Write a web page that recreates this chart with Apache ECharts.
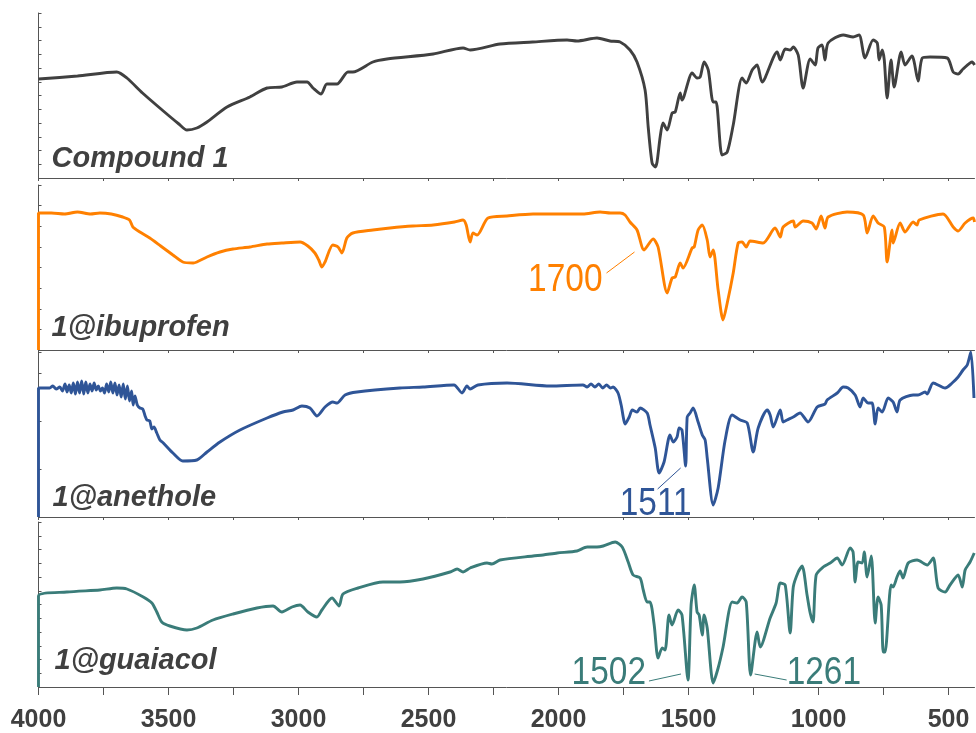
<!DOCTYPE html>
<html>
<head>
<meta charset="utf-8">
<script src="https://cdn.jsdelivr.net/npm/echarts@6/dist/echarts.min.js"></script>
<style>
  html, body { margin: 0; padding: 0; background: #fff; }
  #chart { width: 976px; height: 733px; }
</style>
</head>
<body>
<div id="chart"></div>
<script>
// Wavenumber axis (cm-1), shared by the four stacked FTIR spectra
const wavenumberTicks = [4000, 3750, 3500, 3250, 3000, 2750, 2500, 2250, 2000, 1750, 1500, 1250, 1000, 750, 500];
const wavenumberLabels = [4000, 3500, 3000, 2500, 2000, 1500, 1000, 500];

const sampleNames = ['Compound 1', '1@ibuprofen', '1@anethole', '1@guaiacol'];

// Transmittance (arbitrary units, 0-165 per panel) as [wavenumber, T]
const compound1 = [
  [4000,99],[3850,102],[3699,106],[3660,100],[3600,85],[3520,67],[3460,54],[3429,48],[3391,50],[3352,56],
  [3275,71],[3187,81],[3121,90],[3064,91],[3006,96],[2967,96],[2944,90],[2913,84],[2891,94],[2852,94],
  [2810,106],[2791,106],[2714,116],[2660,119],[2482,124],[2367,130],[2340,128],[2225,134],[2100,136],[1967,138],
  [1929,137],[1852,140],[1802,137],[1763,136],[1725,128],[1698,116],[1667,88],[1655,51],[1640,15],[1628,11],
  [1621,16],[1609,41],[1598,55],[1582,48],[1563,65],[1551,66],[1532,85],[1525,78],[1486,105],[1467,100],
  [1455,101],[1440,116],[1424,108],[1405,76],[1394,76],[1371,23],[1351,26],[1328,53],[1294,100],[1278,95],
  [1255,108],[1236,113],[1217,96],[1159,126],[1147,118],[1128,129],[1109,128],[1097,131],[1078,123],[1059,90],
  [1032,119],[1013,113],[1002,130],[986,133],[975,118],[963,135],[905,143],[867,141],[844,143],[821,120],
  [790,138],[774,135],[767,118],[755,128],[747,118],[736,80],[721,118],[709,91],[682,126],[667,113],
  [640,122],[632,116],[617,97],[601,120],[571,121],[505,120],[482,106],[463,104],[444,109],[409,116],[400,113]
];

const ibuprofen = [
  [4000,0],[4000,137],[3950,137],[3900,136],[3850,138],[3800,136],[3764,137],[3720,136],[3676,133],[3650,130],
  [3637,123],[3610,118],[3572,112],[3530,104],[3483,95],[3445,88],[3405,87],[3391,88],[3352,93],[3302,98],
  [3252,101],[3187,103],[3121,106],[3064,107],[2994,108],[2964,104],[2937,97],[2922,90],[2910,83],[2898,88],
  [2868,105],[2848,103],[2833,97],[2814,112],[2791,117],[2714,120],[2648,122],[2560,124],[2482,125],[2400,128],
  [2367,130],[2355,125],[2340,108],[2329,117],[2313,115],[2271,132],[2198,134],[2098,136],[2000,136],[1906,136],
  [1840,138],[1800,137],[1763,137],[1744,135],[1725,128],[1698,120],[1671,100],[1636,111],[1617,103],[1582,57],
  [1563,72],[1551,73],[1532,87],[1521,82],[1486,102],[1478,103],[1463,120],[1447,125],[1428,110],[1417,93],
  [1405,100],[1386,60],[1367,30],[1351,47],[1328,77],[1309,107],[1294,108],[1278,103],[1263,109],[1213,107],
  [1167,122],[1147,113],[1136,123],[1097,129],[1090,123],[1059,129],[1025,127],[1009,121],[990,134],[975,122],
  [963,133],[890,138],[828,135],[813,117],[790,134],[771,127],[747,123],[736,88],[717,120],[713,107],
  [686,127],[667,118],[636,128],[621,125],[613,130],[521,136],[482,123],[463,119],[436,127],[405,132],[400,128]
];

const anethole = [
  [4000,0],[4000,129],[3957,129],[3945,131],[3932,128],[3918,130],[3908,126],[3898,133],[3890,125],[3882,132],
  [3874,124],[3866,134],[3858,123],[3850,135],[3842,124],[3834,136],[3826,123],[3818,135],[3810,124],[3802,133],
  [3794,126],[3786,134],[3778,127],[3770,131],[3762,126],[3754,129],[3746,124],[3738,133],[3730,125],[3722,135],
  [3714,124],[3706,134],[3698,122],[3690,132],[3682,120],[3674,133],[3666,118],[3658,131],[3650,116],[3642,126],
  [3636,112],[3629,121],[3620,112],[3610,109],[3599,108],[3590,101],[3583,97],[3572,96],[3564,88],[3556,90],
  [3545,84],[3533,77],[3520,74],[3483,64],[3445,56],[3391,57],[3352,65],[3302,75],[3225,87],[3121,99],
  [3060,105],[3021,107],[2987,111],[2956,109],[2929,101],[2898,110],[2868,115],[2852,114],[2821,122],[2775,125],
  [2610,129],[2521,130],[2402,132],[2371,124],[2352,131],[2340,128],[2310,132],[2198,134],[2032,131],[1906,132],
  [1890,130],[1875,133],[1860,130],[1845,133],[1830,129],[1815,132],[1800,129],[1790,130],[1771,124],[1759,112],
  [1743,93],[1728,100],[1716,107],[1698,105],[1686,109],[1659,104],[1648,92],[1628,69],[1613,44],[1594,55],
  [1571,82],[1559,75],[1544,80],[1536,89],[1525,87],[1511,51],[1505,100],[1494,104],[1482,109],[1463,95],
  [1447,82],[1436,77],[1428,59],[1405,12],[1386,29],[1359,77],[1332,102],[1301,97],[1274,94],[1251,65],
  [1232,89],[1197,107],[1186,102],[1174,90],[1147,107],[1136,95],[1121,97],[1097,100],[1071,104],[1040,95],
  [1005,110],[975,113],[967,117],[928,124],[905,130],[886,129],[859,122],[840,110],[828,119],[809,114],
  [794,114],[782,93],[771,109],[755,105],[732,119],[713,115],[698,105],[686,117],[636,122],[617,122],
  [590,125],[582,123],[559,134],[513,129],[486,134],[463,140],[444,147],[428,152],[414,165],[402,119]
];

const guaiacol = [
  [4000,0],[4000,91],[3891,95],[3764,97],[3699,99],[3660,98],[3597,90],[3564,84],[3545,75],[3526,65],
  [3495,61],[3429,57],[3391,59],[3329,67],[3252,73],[3160,79],[3098,81],[3064,75],[3025,80],[2994,82],
  [2964,75],[2929,70],[2910,77],[2871,89],[2844,81],[2829,93],[2771,99],[2675,105],[2610,105],[2521,108],
  [2417,115],[2390,118],[2367,115],[2340,119],[2275,124],[2256,123],[2225,127],[2098,131],[2059,132],[2005,134],
  [1929,136],[1890,140],[1852,140],[1828,141],[1782,145],[1755,140],[1732,125],[1713,112],[1686,109],[1674,97],
  [1659,85],[1648,85],[1632,62],[1617,29],[1601,39],[1590,37],[1575,72],[1563,62],[1540,77],[1525,72],
  [1502,7],[1490,82],[1478,102],[1467,75],[1459,72],[1447,52],[1440,72],[1428,59],[1405,4],[1386,19],
  [1367,40],[1332,85],[1313,84],[1294,90],[1278,85],[1261,12],[1236,55],[1224,40],[1186,69],[1163,84],
  [1147,104],[1128,102],[1109,54],[1097,100],[1078,115],[1063,121],[1044,92],[1032,74],[1021,65],[1009,112],
  [982,120],[955,124],[928,129],[909,122],[878,139],[867,135],[859,105],[848,125],[832,124],[824,135],
  [813,110],[797,131],[782,64],[771,90],[759,82],[751,35],[744,35],[721,102],[713,100],[698,110],
  [686,116],[675,109],[655,124],[621,127],[582,122],[559,129],[540,99],[513,95],[494,102],[463,112],
  [447,100],[436,117],[417,125],[401,134]
];

// Marked bands: which spectrum, the wavenumber, and the text shown
const bandMarks = [
  { series: 1, wavenumber: 1700, text: '1700' },
  { series: 2, wavenumber: 1511, text: '1511' },
  { series: 3, wavenumber: 1502, text: '1502' },
  { series: 3, wavenumber: 1261, text: '1261' }
];

const spectra = [compound1, ibuprofen, anethole, guaiacol];
const colors = ['#404040', '#ff8000', '#2f5597', '#3a7c79'];
const panelTops = [13, 185, 352, 522];
const panelHeight = 165;
const yTickStep = [13.75, 20.625, 48, 13.75];
const axisColor = '#555555';
const textFont = '"Liberation Sans", Arial, Helvetica, sans-serif';

const grids = [], xAxes = [], yAxes = [], series = [];
spectra.forEach((data, i) => {
  const last = i === spectra.length - 1;
  grids.push({ left: 38.5, right: 1.5, top: panelTops[i], height: panelHeight, containLabel: false });
  xAxes.push({
    type: 'value', gridIndex: i, inverse: true, min: 400, max: 4000,
    axisLine: { show: true, lineStyle: { color: axisColor, width: 1 } },
    axisTick: { show: true, customValues: wavenumberTicks, length: last ? 8 : 3, lineStyle: { color: axisColor } },
    axisLabel: {
      show: last, customValues: wavenumberLabels, margin: 21,
      formatter: (v) => String(v),
      fontSize: 25, fontWeight: 'bold', color: '#404040', fontFamily: textFont
    },
    splitLine: { show: false }
  });
  yAxes.push({
    type: 'value', gridIndex: i, min: 0, max: panelHeight, interval: yTickStep[i],
    axisLine: { show: true, lineStyle: { color: axisColor, width: 1 } },
    axisTick: { show: true, inside: true, length: 3, lineStyle: { color: axisColor } },
    axisLabel: { show: false },
    splitLine: { show: false }
  });
  series.push({
    type: 'line', xAxisIndex: i, yAxisIndex: i, data: data,
    showSymbol: false, symbol: 'none', smooth: 0.25, clip: true,
    lineStyle: { color: colors[i], width: 2.9 }, z: 3, silent: true
  });
});

const chart = echarts.init(document.getElementById('chart'), null, { renderer: 'canvas' });
chart.setOption({
  animation: false,
  backgroundColor: '#ffffff',
  grid: grids, xAxis: xAxes, yAxis: yAxes, series: series
});

// Sample names, placed inside the lower-left corner of each panel
const nameOffsetY = [-19, -22, -19, -26];
const nameOffsetX = [13, 13, 14, 16];
const graphics = [];
sampleNames.forEach((name, i) => {
  const corner = chart.convertToPixel({ gridIndex: i }, [4000, 0]);
  graphics.push({
    type: 'text', silent: true, z: 10,
    style: {
      text: name, x: corner[0] + nameOffsetX[i], y: corner[1] + nameOffsetY[i],
      fill: '#404040', font: 'italic bold 29px ' + textFont,
      textAlign: 'left', textVerticalAlign: 'middle', align: 'left', verticalAlign: 'middle'
    }
  });
});

// Band labels with short leader lines: offsets from the band position at the panel floor
const markLayout = [
  { line: [-30, -77, -2, -98], text: [-34, -69], align: 'right' },
  { line: [-28, -28, -5, -49], text: [-30, -12], align: 'center' },
  { line: [-39, -6, -7, -13], text: [-42, -13], align: 'right' },
  { line: [4, -13, 36, -7], text: [36, -13], align: 'left' }
];
bandMarks.forEach((m, k) => {
  const p = chart.convertToPixel({ gridIndex: m.series }, [m.wavenumber, 0]);
  const L = markLayout[k];
  const c = colors[m.series];
  graphics.push({
    type: 'line', silent: true, z: 10,
    shape: { x1: p[0] + L.line[0], y1: p[1] + L.line[1], x2: p[0] + L.line[2], y2: p[1] + L.line[3] },
    style: { stroke: c, lineWidth: 1 }
  });
  graphics.push({
    type: 'text', silent: true, z: 10,
    x: p[0] + L.text[0], y: p[1] + L.text[1], scaleX: 0.88,
    style: {
      text: m.text, x: 0, y: 0,
      fill: c, font: '38px ' + textFont,
      textAlign: L.align, textVerticalAlign: 'middle', align: L.align, verticalAlign: 'middle'
    }
  });
});
chart.setOption({ graphic: { elements: graphics } });
</script>
</body>
</html>
